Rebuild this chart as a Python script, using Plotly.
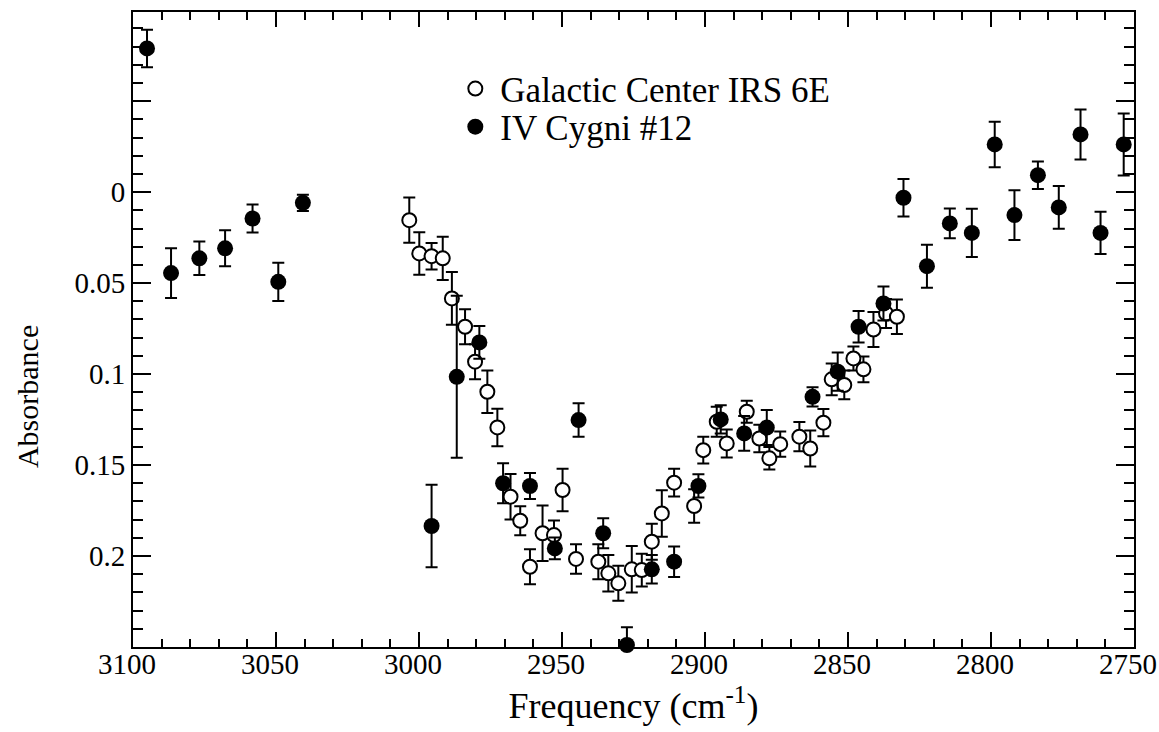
import plotly.graph_objects as go

# Galactic Center IRS 6E (open circles)
gc_freq = [3003.4, 2999.9, 2995.6, 2991.7, 2988.5, 2983.9, 2980.4, 2976.1, 2972.6,
           2968.0, 2964.6, 2961.2, 2956.8, 2952.8, 2949.8, 2945.1, 2937.3, 2933.8,
           2930.3, 2925.6, 2922.1, 2918.6, 2915.1, 2910.8, 2903.8, 2900.6, 2895.9,
           2892.4, 2885.4, 2881.0, 2877.5, 2873.7, 2867.0, 2863.2, 2858.6, 2855.7,
           2851.3, 2848.1, 2844.6, 2841.1, 2836.7, 2832.9]
gc_abs = [0.0154, 0.0337, 0.0352, 0.0364, 0.0584, 0.0740, 0.0932, 0.1097, 0.1293,
          0.1674, 0.1806, 0.2059, 0.1875, 0.1885, 0.1637, 0.2016, 0.2031, 0.2095,
          0.2150, 0.2073, 0.2077, 0.1921, 0.1766, 0.1597, 0.1725, 0.1418, 0.1262,
          0.1381, 0.1207, 0.1354, 0.1463, 0.1385, 0.1344, 0.1409, 0.1267, 0.1029,
          0.1060, 0.0914, 0.0974, 0.0755, 0.0667, 0.0685]
gc_err = [0.0124, 0.0117, 0.0073, 0.0119, 0.0145, 0.0096, 0.0096, 0.0117, 0.0103,
          0.0125, 0.0080, 0.0096, 0.0153, 0.0080, 0.0117, 0.0081, 0.0096, 0.0100,
          0.0096, 0.0128, 0.0090, 0.0099, 0.0128, 0.0076, 0.0092, 0.0073, 0.0082,
          0.0077, 0.0060, 0.0075, 0.0062, 0.0069, 0.0080, 0.0099, 0.0075, 0.0087,
          0.0079, 0.0066, 0.0071, 0.0096, 0.0080, 0.0095]

# IV Cygni #12 (filled circles)
cyg_freq = [3095.1, 3086.7, 3076.8, 3067.8, 3058.2, 3049.2, 3040.6, 2995.6, 2986.8,
            2978.9, 2970.6, 2961.2, 2952.5, 2944.2, 2935.6, 2927.3, 2918.6, 2910.8,
            2902.3, 2894.5, 2886.3, 2878.4, 2862.4, 2853.6, 2846.3, 2837.6, 2830.6,
            2822.4, 2814.4, 2806.7, 2798.7, 2791.8, 2783.6, 2776.3, 2768.7, 2761.7,
            2753.6]
cyg_abs = [-0.0790, 0.0445, 0.0364, 0.0309, 0.0145, 0.0493, 0.0059, 0.1835, 0.1015,
           0.0826, 0.1600, 0.1615, 0.1958, 0.1253, 0.1875, 0.2489, 0.2073, 0.2031,
           0.1615, 0.1249, 0.1326, 0.1294, 0.1125, 0.0987, 0.0740, 0.0612, 0.0031,
           0.0407, 0.0172, 0.0224, -0.0262, 0.0126, -0.0093, 0.0084, -0.0317, 0.0224,
           -0.0262]
cyg_err = [0.0103, 0.0137, 0.0092, 0.0099, 0.0077, 0.0105, 0.0045, 0.0227, 0.0445,
           0.0090, 0.0110, 0.0071, 0.0060, 0.0092, 0.0082, 0.0097, 0.0078, 0.0084,
           0.0064, 0.0077, 0.0096, 0.0096, 0.0053, 0.0105, 0.0087, 0.0093, 0.0103,
           0.0118, 0.0082, 0.0133, 0.0125, 0.0137, 0.0076, 0.0117, 0.0137, 0.0116,
           0.0170]

x_ticks = [3100, 3050, 3000, 2950, 2900, 2850, 2800, 2750]
y_ticks = [-0.1, -0.05, 0, 0.05, 0.1, 0.15, 0.2, 0.25]
y_ticktext = [" ", " ", "0", "0.05", "0.1", "0.15", "0.2", " "]

FONT = "Liberation Serif"

fig = go.Figure()

fig.add_trace(go.Scatter(
    x=gc_freq, y=gc_abs, mode="markers", name="Galactic Center IRS 6E",
    marker=dict(symbol="circle", size=14, color="white",
                line=dict(color="black", width=2)),
    error_y=dict(type="data", array=gc_err, color="black", thickness=2, width=6),
    legend="legend",
))

fig.add_trace(go.Scatter(
    x=cyg_freq, y=cyg_abs, mode="markers", name="IV Cygni #12",
    marker=dict(symbol="circle", size=16, color="black",
                line=dict(color="black", width=0)),
    error_y=dict(type="data", array=cyg_err, color="black", thickness=2, width=6),
    cliponaxis=False,
    legend="legend2",
))

axis_common = dict(
    showline=True, linecolor="black", linewidth=2, mirror="allticks",
    ticks="inside", tickcolor="black", tickwidth=2,
    showgrid=False, zeroline=False, automargin=False,
    tickfont=dict(family=FONT, size=29, color="black"),
    ticklabeloverflow="allow",
)

fig.update_xaxes(
    range=[3100, 2750], tickvals=x_ticks, ticklen=15,
    ticklabelstandoff=-10, ticklabelshift=6,
    minor=dict(dtick=10, ticks="inside", ticklen=8, tickwidth=2, tickcolor="black"),
    title=dict(text="Frequency (cm<sup>-1</sup>)",
               font=dict(family=FONT, size=36, color="black"), standoff=14),
    **axis_common,
)
fig.update_yaxes(
    range=[0.25, -0.099], tickvals=y_ticks, ticktext=y_ticktext, ticklen=18,
    minor=dict(dtick=0.01, tick0=0, ticks="inside", ticklen=10, tickwidth=2,
               tickcolor="black"),
    **axis_common,
)

legend_style = dict(
    font=dict(family=FONT, size=35, color="black"),
    bgcolor="rgba(0,0,0,0)", borderwidth=0,
    xanchor="left", yanchor="middle", itemsizing="trace", itemwidth=40,
)

fig.update_layout(
    width=1159, height=732,
    margin=dict(l=133, r=25, t=12, b=85),
    paper_bgcolor="white", plot_bgcolor="white",
    showlegend=True,
    legend=dict(x=0.317, y=0.879, **legend_style),
    legend2=dict(x=0.317, y=0.819, **legend_style),
    annotations=[dict(
        text="Absorbance", textangle=-90, xref="paper", yref="paper",
        x=-0.106, y=0.395, xanchor="center", yanchor="middle", showarrow=False,
        font=dict(family=FONT, size=30, color="black"),
    )],
)

fig.write_html("out.html")
